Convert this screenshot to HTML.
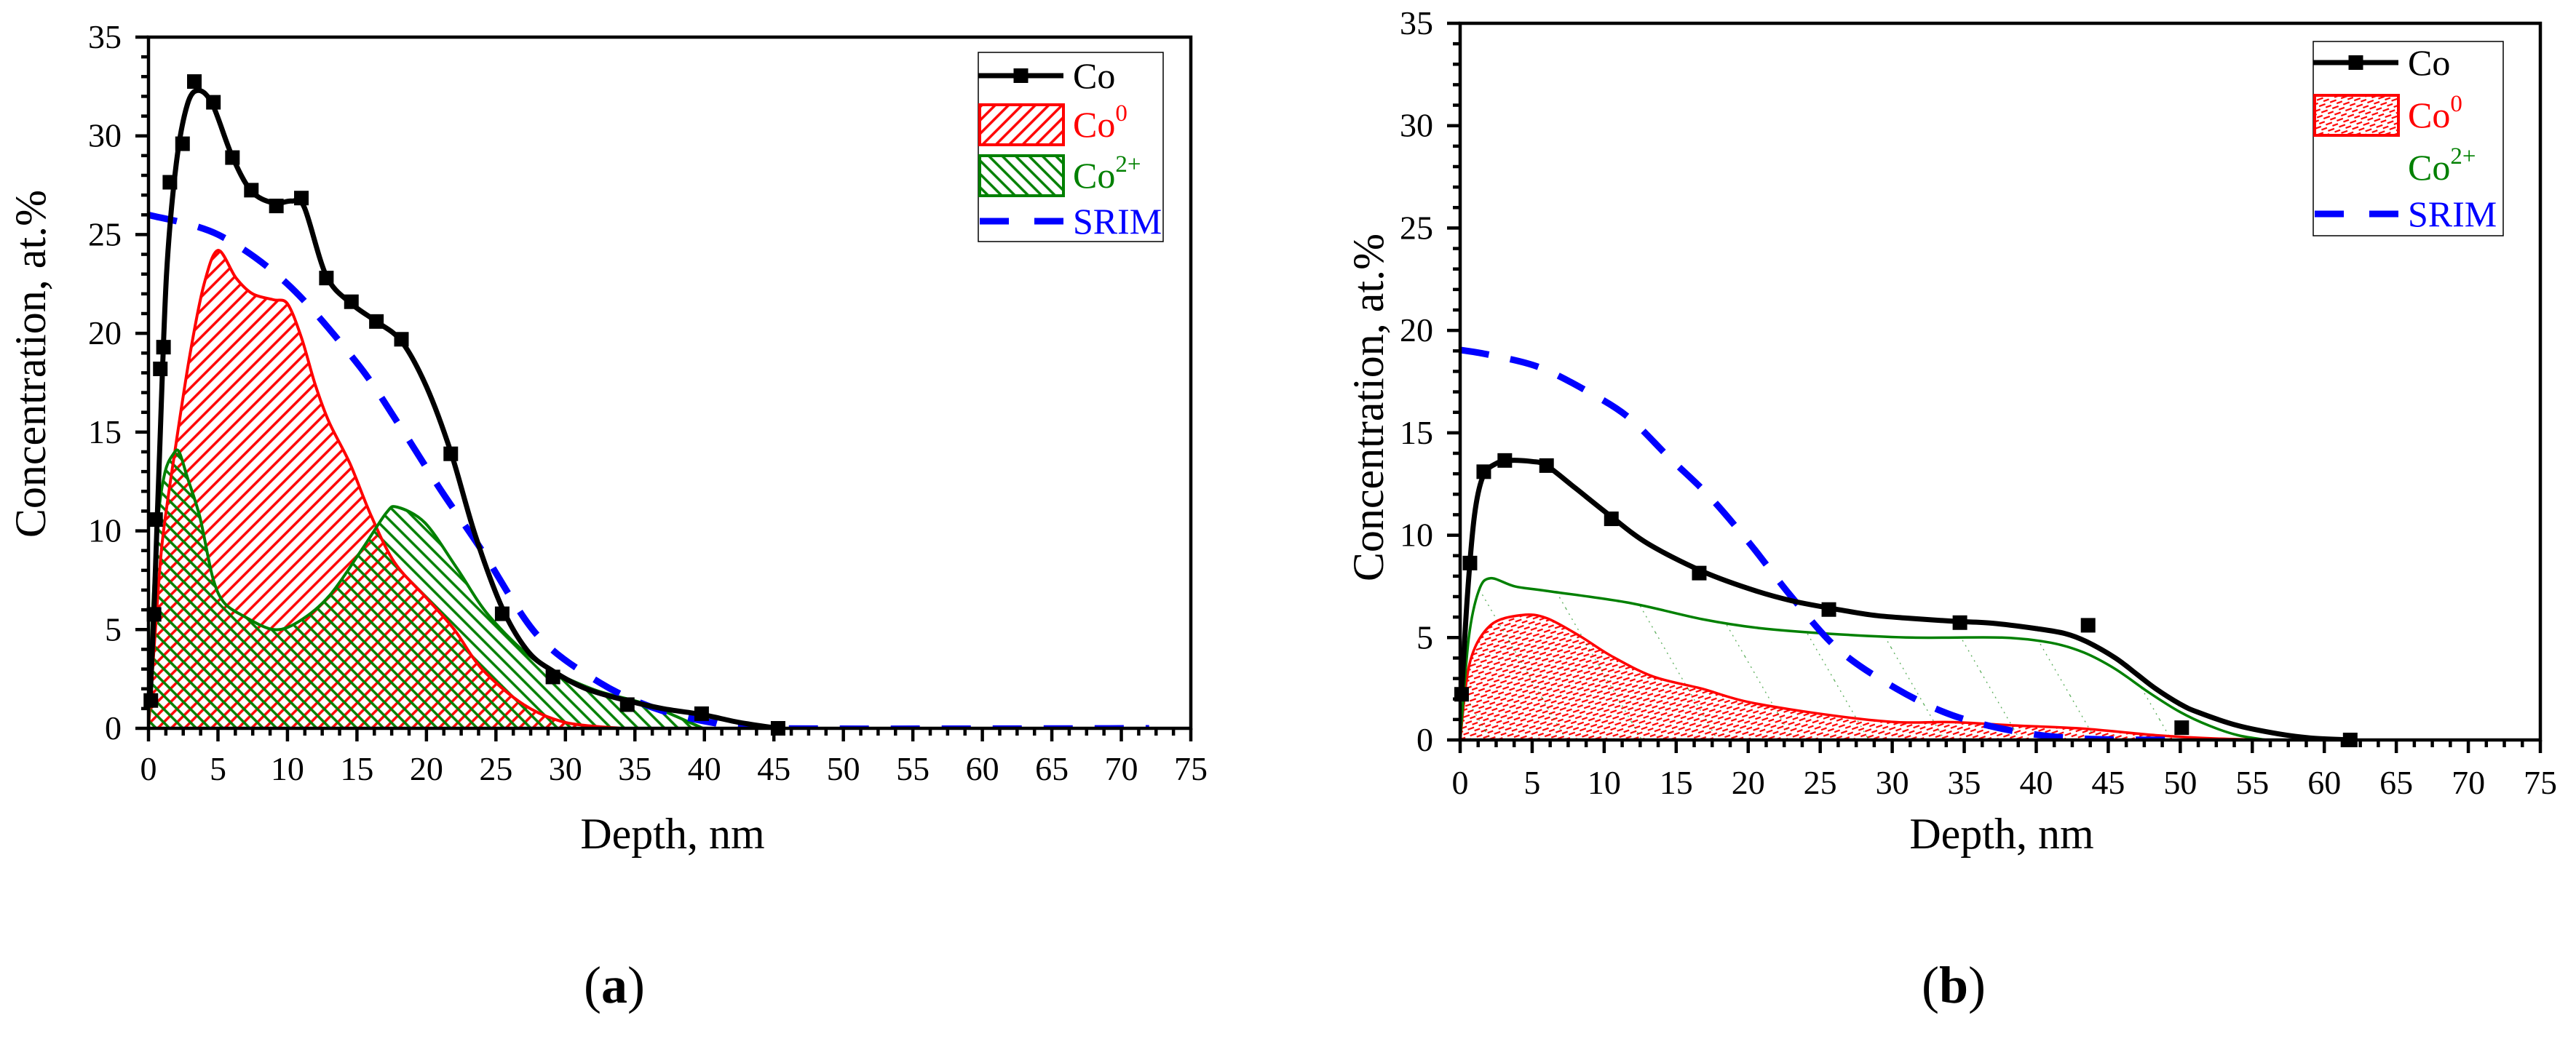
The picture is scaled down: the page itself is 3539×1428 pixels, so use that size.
<!DOCTYPE html>
<html><head><meta charset="utf-8"><style>
html,body{margin:0;padding:0;background:#fff;}
svg{display:block;font-family:"Liberation Serif",serif;}
</style></head><body>
<svg id="fig" width="3539" height="1428" viewBox="0 0 3539 1428" xmlns="http://www.w3.org/2000/svg">
<defs>
<pattern id="hatchRed" patternUnits="userSpaceOnUse" width="13" height="13" patternTransform="rotate(45)"><line x1="3" y1="0" x2="3" y2="13" stroke="#ff0000" stroke-width="3.5"/></pattern>
<pattern id="hatchGreen" patternUnits="userSpaceOnUse" width="13" height="13" patternTransform="rotate(-45)"><line x1="3" y1="0" x2="3" y2="13" stroke="#008000" stroke-width="3.5"/></pattern>
<pattern id="dashRed" patternUnits="userSpaceOnUse" width="16" height="9" patternTransform="rotate(-20)"><line x1="0" y1="3" x2="9" y2="3" stroke="#ff0000" stroke-width="2.2"/><line x1="8" y1="7.5" x2="16" y2="7.5" stroke="#ff0000" stroke-width="2.2"/></pattern>
<pattern id="dotGreen" patternUnits="userSpaceOnUse" width="90" height="90" patternTransform="rotate(-30)"><line x1="5" y1="0" x2="5" y2="90" stroke="#008000" stroke-width="1.2" stroke-dasharray="2 6" opacity="0.7"/></pattern>
<clipPath id="clipA"><rect x="204" y="51" width="1432" height="950"/></clipPath>
<clipPath id="clipB"><rect x="2006" y="32" width="1484" height="985"/></clipPath>
</defs>
<g id="panelA"></g>
<g id="panelB"></g>
</svg>
<script>
// ---------- Panel (a) data ----------
const aCoX = [0.17,0.4,0.51,0.85,1.08,1.54,2.45,3.3,4.67,6.04,7.4,9.2,11.0,12.8,14.6,16.4,18.2,21.75,25.45,29.1,34.45,39.8,45.3];
const aCoY = [1.41,5.77,10.57,18.2,19.3,27.65,29.6,32.75,31.7,28.9,27.25,26.45,26.85,22.8,21.6,20.6,19.7,13.9,5.8,2.6,1.2,0.74,0];
const aCoFitX = [0.1,0.4,0.8,1.3,2,2.8,3.6,4.6,6,7.4,9,10.3,11.2,12.8,14.6,16.4,18.2,20,21.75,23.5,25.45,27.3,29.1,31.5,34.45,37,39.8,42.5,45.3];
const aCoFitY = [1.2,6,14,23,28.6,31.6,32.3,31.6,29,27.2,26.6,26.7,26.4,22.9,21.5,20.6,19.6,17.3,14,9.8,6.1,3.9,2.9,2,1.4,1,0.7,0.3,0];
const aCo0X = [0,0.5,1,2,3,4,5,6.3,7.5,9,10,11,12,13,14.5,16,17.7,20,22,24,27,30,34];
const aCo0Y = [0,5,9.5,14.5,19,22.5,24.2,22.8,22,21.7,21.5,19.8,17.4,15.5,13.4,10.8,8.4,6.6,5,3,1.2,0.3,0];
const aCo2X = [0,0.3,0.7,1.2,1.8,2.2,2.8,3.7,4.6,5.4,6.8,9,10.8,13,15.4,17.1,17.9,19.9,22.2,24.5,27.9,31.9,35.9,39.9];
const aCo2Y = [0,6,10.7,13,13.9,14,12.7,10.7,7.7,6.4,5.7,5,5.4,6.7,9.1,10.9,11.2,10.4,8.1,5.7,3.4,2,1.2,0];
const aSrimX = [0,5,10,15,18,21,24,28,32.5,36.5,40.5,45,72];
const aSrimY = [26,25,22.5,18.5,15.4,12.1,9,4.7,2.3,1,0.3,0,0];
// ---------- Panel (b) data ----------
const bCoX = [0.1,0.68,1.64,3.1,6.0,10.5,16.6,25.6,34.7,43.6,50.1,61.8];
const bCoY = [2.23,8.64,13.1,13.65,13.4,10.8,8.15,6.37,5.73,5.6,0.6,0];
const bCoFitX = [0.1,0.5,1,1.6,2.5,3.5,5,6,8,10.5,13,16.6,20,23,26,28.6,31,34.2,37,39.9,42,43.5,45.5,47,48.3,50,51.2,54,56.8,59,61.8];
const bCoFitY = [2.2,7,11,12.9,13.5,13.65,13.6,13.4,12.3,10.9,9.6,8.3,7.4,6.8,6.4,6.1,5.95,5.8,5.7,5.45,5.2,4.8,4.0,3.2,2.5,1.75,1.36,0.7,0.3,0.1,0];
const bCo0X = [0,0.68,2.1,4.3,6,8.3,10.5,13.4,16.8,20.1,25.8,30.3,34.2,38.7,43.3,48.3,52.8,56.8];
const bCo0Y = [0,3.8,5.6,6.1,5.95,5.08,4.1,3.1,2.5,1.84,1.2,0.87,0.87,0.7,0.55,0.23,0.06,0];
const bCo2X = [0,0.6,1.3,2.1,3.8,6,11.7,16.8,20.7,25.8,31.4,37.6,41,43.3,45.5,47.8,50,52,54,56];
const bCo2Y = [0,5,7.3,7.9,7.5,7.28,6.7,5.9,5.47,5.18,5.0,5.0,4.75,4.27,3.46,2.33,1.36,0.7,0.23,0];
const bSrimX = [0,2.1,5.5,8.9,11.7,14.5,17.3,20.1,23,26.3,30.3,34.2,38.7,43.3,49.5];
const bSrimY = [19.05,18.8,18.2,17.0,15.75,13.8,11.9,9.6,7.0,4.4,2.5,1.2,0.4,0.06,0];
// ---------- Axis ticks ----------
const xTicks = [0,5,10,15,20,25,30,35,40,45,50,55,60,65,70,75];
const yTicks = [0,5,10,15,20,25,30,35];

const NS = "http://www.w3.org/2000/svg";
function mk(tag, attrs, parent){const e=document.createElementNS(NS,tag);for(const k in attrs)e.setAttribute(k,attrs[k]);if(parent)parent.appendChild(e);return e;}
function smooth(pts){
  if(pts.length<2)return "";
  let d="M"+pts[0][0].toFixed(1)+","+pts[0][1].toFixed(1);
  for(let i=0;i<pts.length-1;i++){
    const p0=pts[i-1]||pts[i],p1=pts[i],p2=pts[i+1],p3=pts[i+2]||p2;
    const t=0.16;
    const c1=[p1[0]+(p2[0]-p0[0])*t,p1[1]+(p2[1]-p0[1])*t];
    const c2=[p2[0]-(p3[0]-p1[0])*t,p2[1]-(p3[1]-p1[1])*t];
    d+=" C"+c1[0].toFixed(1)+","+c1[1].toFixed(1)+" "+c2[0].toFixed(1)+","+c2[1].toFixed(1)+" "+p2[0].toFixed(1)+","+p2[1].toFixed(1);
  }
  return d;
}

function panel(g, cfg){
  const L=cfg.L,T=cfg.T,R=cfg.R,B=cfg.B;
  const sx=v=>L+(v/75)*(R-L);
  const sy=v=>B-(v/35)*(B-T);
  const pts=(xs,ys)=>xs.map((x,i)=>[sx(x),sy(ys[i])]);
  const data=mk("g",{"clip-path":"url(#"+cfg.clip+")"},g);
  
  
  const c0=pts(cfg.co0X,cfg.co0Y);
  const a0=mk("path",{d:smooth(c0)+" L"+sx(cfg.co0X[cfg.co0X.length-1])+","+B+" L"+sx(0)+","+B+" Z",fill:cfg.co0Fill,stroke:"none"},data);
  
  
  const c2=pts(cfg.co2X,cfg.co2Y);
  const a2=mk("path",{d:smooth(c2)+" L"+sx(cfg.co2X[cfg.co2X.length-1])+","+B+" L"+sx(0)+","+B+" Z",fill:cfg.co2Fill,stroke:"none"},data);
  
  
  const o0=mk("path",{d:smooth(c0),fill:"none",stroke:"#ff0000","stroke-width":cfg.outlineW},data);
  
  
  const o2=mk("path",{d:smooth(c2),fill:"none",stroke:"#008000","stroke-width":cfg.outlineW},data);
  
  
  const sr=mk("path",{d:smooth(pts(cfg.srimX,cfg.srimY)),fill:"none",stroke:"#0000ff","stroke-width":9,"stroke-dasharray":"40 30"},data);
  
  
  const cl=mk("path",{d:smooth(pts(cfg.coFitX,cfg.coFitY)),fill:"none",stroke:"#000","stroke-width":7},data);
  
  
  cfg.coX.forEach((x,i)=>{
    const m=mk("rect",{x:sx(x)-10,y:sy(cfg.coY[i])-10,width:20,height:20,fill:"#000"},g);
    
    
  });
  const fr=mk("rect",{x:L,y:T,width:R-L,height:B-T,fill:"none",stroke:"#000","stroke-width":4.5},g);
  
  
  for(let v=0;v<=75.01;v+=1.25){
    const major=Math.abs(v/5-Math.round(v/5))<1e-6;
    mk("line",{x1:sx(v),y1:B,x2:sx(v),y2:B+(major?18:10),stroke:"#000","stroke-width":4.5},g);
  }
  xTicks.forEach(v=>{
    const t=mk("text",{x:sx(v),y:B+cfg.xLabOff,"text-anchor":"middle","font-size":46},g);
    t.textContent=v;
    
    
  });
  for(let v=0;v<=35;v+=1){
    const major=v%5===0;
    mk("line",{x1:L,y1:sy(v),x2:L-(major?18:10),y2:sy(v),stroke:"#000","stroke-width":4.5},g);
  }
  yTicks.forEach(v=>{
    const t=mk("text",{x:L-37,y:sy(v)+15,"text-anchor":"end","font-size":46},g);
    t.textContent=v;
    
    
  });
  const xt=mk("text",{x:cfg.xtX,y:1166,"text-anchor":"middle","font-size":60},g);
  xt.textContent="Depth, nm";
  
  
  const yt=mk("text",{x:0,y:0,"text-anchor":"middle","font-size":60,transform:"translate("+cfg.ytX+","+cfg.ytY+") rotate(-90)"},g);
  yt.textContent="Concentration, at.%";
  
  
  const pl=mk("text",{x:cfg.plX,y:1378,"text-anchor":"middle","font-size":72},g);
  pl.innerHTML='(<tspan font-weight="bold">'+cfg.letter+'</tspan>)';
  
  
  const lg=mk("g",{},g);
  
  
  const l=cfg.leg;
  mk("rect",{x:l.x,y:l.y,width:l.w,height:l.h,fill:"#fff",stroke:"#000","stroke-width":1.5},lg);
  const sx0=l.x, sx1=l.x+117, tx=l.x+130;
  mk("line",{x1:sx0,y1:l.e[0],x2:sx1,y2:l.e[0],stroke:"#000","stroke-width":7},lg);
  mk("rect",{x:(sx0+sx1)/2-10,y:l.e[0]-10,width:20,height:20,fill:"#000"},lg);
  let t=mk("text",{x:tx,y:l.e[0]+17,"font-size":50,fill:"#000"},lg);t.textContent="Co";
  
  
  mk("rect",{x:sx0+2,y:l.e[1]-27,width:115,height:55,fill:cfg.co0Fill,stroke:"#ff0000","stroke-width":4},lg);
  t=mk("text",{x:tx,y:l.e[1]+17,"font-size":50,fill:"#ff0000"},lg);t.innerHTML='Co<tspan font-size="33" dy="-22">0</tspan>';
  
  
  if(cfg.co2Legend) mk("rect",{x:sx0+2,y:l.e[2]-27,width:115,height:55,fill:cfg.co2Fill,stroke:"#008000","stroke-width":4},lg);
  t=mk("text",{x:tx,y:l.e[2]+17,"font-size":50,fill:"#008000"},lg);t.innerHTML='Co<tspan font-size="33" dy="-22">2+</tspan>';
  
  
  mk("line",{x1:sx0+2,y1:l.e[3],x2:sx1,y2:l.e[3],stroke:"#0000ff","stroke-width":9,"stroke-dasharray":"40 35"},lg);
  t=mk("text",{x:tx,y:l.e[3]+17,"font-size":50,fill:"#0000ff"},lg);t.textContent="SRIM";
  
  
}

panel(document.getElementById("panelA"),{L:204,T:51,R:1636,B:1001,clip:"clipA",
  coX:aCoX,coY:aCoY,coFitX:aCoFitX,coFitY:aCoFitY,co0X:aCo0X,co0Y:aCo0Y,co2X:aCo2X,co2Y:aCo2Y,srimX:aSrimX,srimY:aSrimY,
  co0Fill:"url(#hatchRed)",co2Fill:"url(#hatchGreen)",outlineW:4,co2Legend:true,xLabOff:71,
  xtX:924,ytX:62,ytY:500,plX:844,letter:"a",
  leg:{x:1344,y:72,w:254,h:260,e:[104,171,241,304]}});
panel(document.getElementById("panelB"),{L:2006,T:32,R:3490,B:1017,clip:"clipB",
  coX:bCoX,coY:bCoY,coFitX:bCoFitX,coFitY:bCoFitY,co0X:bCo0X,co0Y:bCo0Y,co2X:bCo2X,co2Y:bCo2Y,srimX:bSrimX,srimY:bSrimY,
  co0Fill:"url(#dashRed)",co2Fill:"url(#dotGreen)",outlineW:3.5,co2Legend:false,xLabOff:74,
  xtX:2750,ytX:1900,ytY:560,plX:2684,letter:"b",
  leg:{x:3178,y:57,w:261,h:267,e:[86,158,230,294]}});
</script>
</body></html>
